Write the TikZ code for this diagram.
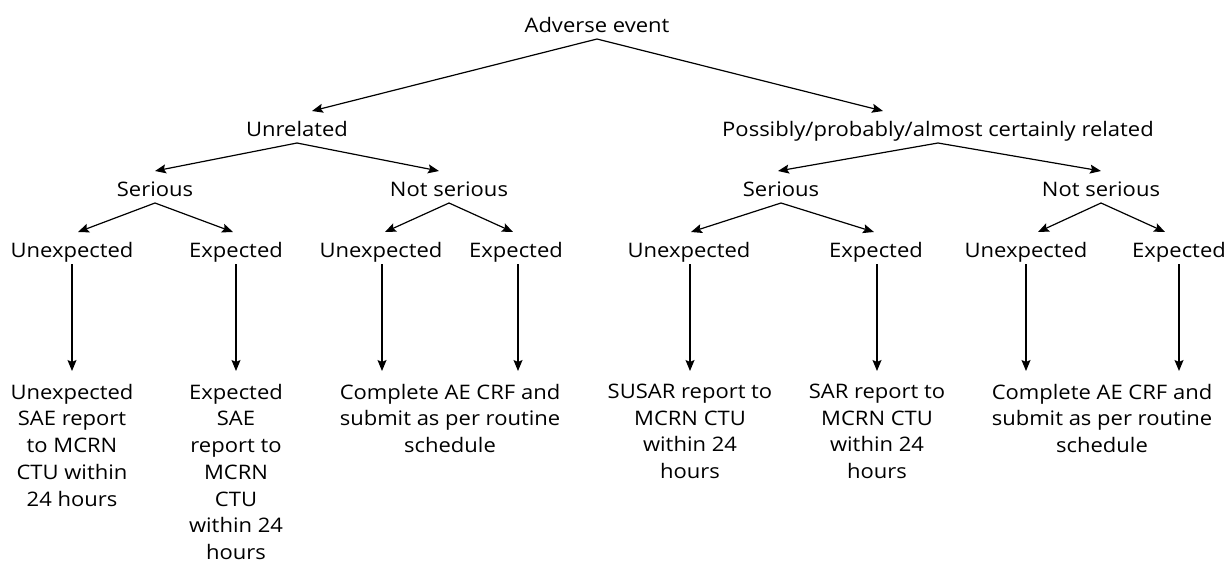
\documentclass[tikz,border=0pt]{standalone}
\usepackage{fontspec}
\setmainfont{Open Sans}[FakeStretch=1.1]
\usetikzlibrary{arrows.meta}
\begin{document}
\begin{tikzpicture}[x=1pt,y=-1pt,
  font=\fontsize{20}{26.7}\selectfont,
  lbl/.style={inner sep=0pt, outer sep=0pt, text height=25pt, text depth=7pt, anchor=base},
  res/.style={inner xsep=0pt, inner ysep=13pt, outer sep=0pt, anchor=north, align=center},
  arr/.style={line width=1.2pt, -{Stealth[length=11pt,width=9pt,inset=2pt]}}]
\useasboundingbox (0,0) rectangle (1229,560);
% level 0
\node[lbl] (ae) at (597,32) {Adverse event};
% level 1
\node[lbl] (un) at (297,136) {Unrelated};
\node[lbl] (pr) at (938,136) {Possibly/probably/almost certainly related};
% level 2
\node[lbl] (s1) at (155,196) {Serious};
\node[lbl] (n1) at (449,196) {Not serious};
\node[lbl] (s2) at (781,196) {Serious};
\node[lbl] (n2) at (1101,196) {Not serious};
% level 3
\node[lbl] (u1) at (72,257) {Unexpected};
\node[lbl] (e1) at (236,257) {Expected};
\node[lbl] (u2) at (381,257) {Unexpected};
\node[lbl] (e2) at (516,257) {Expected};
\node[lbl] (u3) at (689,257) {Unexpected};
\node[lbl] (e3) at (876,257) {Expected};
\node[lbl] (u4) at (1026,257) {Unexpected};
\node[lbl] (e4) at (1179,257) {Expected};
% results
\node[res] (b1) at (72,371) {Unexpected\\SAE report\\to MCRN\\CTU within\\24 hours};
\node[res] (b2) at (236,371) {Expected\\SAE\\report to\\MCRN\\CTU\\within 24\\hours};
\node[res] (b3) at (450,371) {Complete AE CRF and\\submit as per routine\\schedule};
\node[res] (b4) at (690,371) {SUSAR report to\\MCRN CTU\\within 24\\hours};
\node[res] (b5) at (877,371) {SAR report to\\MCRN CTU\\within 24\\hours};
\node[res] (b6) at (1102,371) {Complete AE CRF and\\submit as per routine\\schedule};
% connectors
\draw[arr] (ae.south) -- ([xshift=15pt]un.north);
\draw[arr] (ae.south) -- ([xshift=-55pt]pr.north);
\draw[arr] (un.south) -- (s1.north);
\draw[arr] (un.south) -- ([xshift=-10pt]n1.north);
\draw[arr] (pr.south) -- ([xshift=-3pt]s2.north);
\draw[arr] (pr.south) -- (n2.north);
\draw[arr] (s1.south) -- ([xshift=6pt]u1.north);
\draw[arr] (s1.south) -- ([xshift=-3pt]e1.north);
\draw[arr] (n1.south) -- ([xshift=4pt]u2.north);
\draw[arr] (n1.south) -- ([xshift=-3pt]e2.north);
\draw[arr] (s2.south) -- ([xshift=2pt]u3.north);
\draw[arr] (s2.south) -- ([xshift=-2pt]e3.north);
\draw[arr] (n2.south) -- ([xshift=12pt]u4.north);
\draw[arr] (n2.south) -- ([xshift=-14pt]e4.north);
\draw[arr] (u1.south) -- (u1.south |- b1.north);
\draw[arr] (e1.south) -- (e1.south |- b2.north);
\draw[arr] ([xshift=1pt]u2.south) -- ([xshift=1pt]u2.south |- b3.north);
\draw[arr] ([xshift=2pt]e2.south) -- ([xshift=2pt]e2.south |- b3.north);
\draw[arr] ([xshift=1pt]u3.south) -- ([xshift=1pt]u3.south |- b4.north);
\draw[arr] ([xshift=1pt]e3.south) -- ([xshift=1pt]e3.south |- b5.north);
\draw[arr] (u4.south) -- (u4.south |- b6.north);
\draw[arr] (e4.south) -- (e4.south |- b6.north);
\end{tikzpicture}
\end{document}
